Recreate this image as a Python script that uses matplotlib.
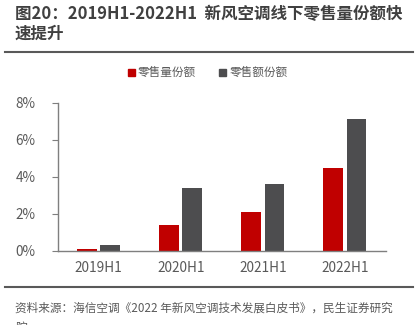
import matplotlib
matplotlib.use("Agg")
import matplotlib.pyplot as plt
from matplotlib.lines import Line2D
from matplotlib.patches import Rectangle

plt.rcParams['font.family'] = ['Noto Sans CJK SC', 'DejaVu Sans']

categories = ["2019H1", "2020H1", "2021H1", "2022H1"]
volume_share = [0.1, 1.4, 2.1, 4.5]   # 零售量份额 (%)
value_share = [0.3, 3.4, 3.6, 7.1]    # 零售额份额 (%)
yticks = [0, 2, 4, 6, 8]
ytick_labels = ["0%", "2%", "4%", "6%", "8%"]

title = "图20：2019H1-2022H1  新风空调线下零售量份额快\n速提升"
source = "资料来源：海信空调《2022 年新风空调技术发展白皮书》，民生证券研究\n院"

RED = "#C00000"
GREY = "#4D4D4F"
TXT = "#595959"

fig = plt.figure(figsize=(4.16, 3.25), dpi=100)
W, H = 416, 325
ax = fig.add_axes([57.5 / W, 74 / H, (386 - 57.5) / W, (251 - 102.7) / H])

x = list(range(len(categories)))
bw = 0.24
off = 0.142
ax.bar([i - off for i in x], volume_share, width=bw, color=RED, zorder=2)
ax.bar([i + off for i in x], value_share, width=bw, color=GREY, zorder=2)

ax.set_xlim(-0.5, 3.5)
ax.set_ylim(0, 8)
ax.set_yticks(yticks)
ax.set_yticklabels(ytick_labels)
ax.set_xticks(x)
ax.set_xticklabels(categories)
for s in ["top", "right"]:
    ax.spines[s].set_visible(False)
for s in ["left", "bottom"]:
    ax.spines[s].set_color("#7F7F7F")
    ax.spines[s].set_linewidth(1.0)
ax.tick_params(axis='y', length=4, color="#7F7F7F", labelsize=9.8, labelcolor=TXT, pad=12)
ax.tick_params(axis='x', length=0, labelsize=9.8, labelcolor=TXT, pad=7)

# title and rules
fig.text(15 / W, 1 - 5 / H, title, fontsize=11.9, fontweight='bold', color="#404040",
         va='top', ha='left', linespacing=1.12)
fig.add_artist(Line2D([5 / W, 413 / W], [1 - 52 / H, 1 - 52 / H], color="#595959", lw=1.5))
fig.add_artist(Line2D([5 / W, 413 / W], [1 - 287 / H, 1 - 287 / H], color="#595959", lw=1.5))
fig.text(15 / W, 1 - 302 / H, source, fontsize=8.4, color=TXT, va='top', ha='left',
         linespacing=1.55)

# legend
ly = 1 - 72 / H
sq = 7
fig.add_artist(Rectangle((128 / W, ly - sq / 2 / H), sq / W, sq / H, color=RED,
                         transform=fig.transFigure))
fig.text(138 / W, ly, "零售量份额", fontsize=8.4, color=TXT, va='center', ha='left')
fig.add_artist(Rectangle((219 / W, ly - sq / 2 / H), sq / W, sq / H, color=GREY,
                         transform=fig.transFigure))
fig.text(230 / W, ly, "零售额份额", fontsize=8.4, color=TXT, va='center', ha='left')

fig.savefig("out.png", dpi=100)
